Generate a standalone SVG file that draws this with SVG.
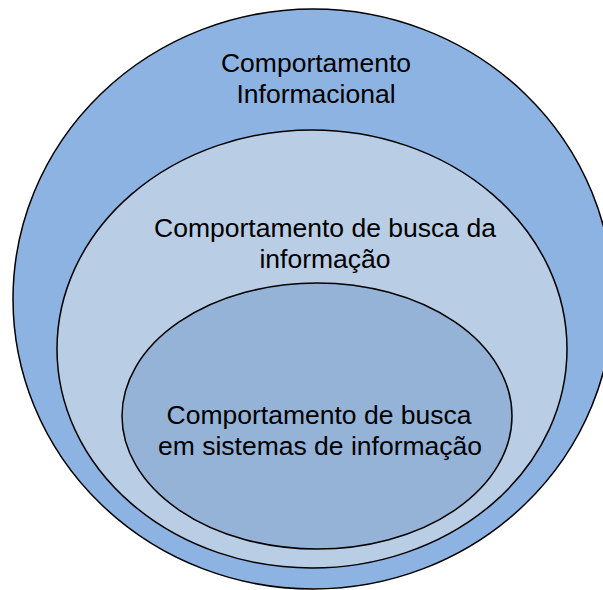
<svg xmlns="http://www.w3.org/2000/svg" width="603" height="590" viewBox="0 0 603 590">
<style>
.e{stroke:#000;stroke-width:1.5}
.t{font-family:"Liberation Sans",Arial,sans-serif;font-size:26.5px;fill:#000;text-anchor:middle}
</style>
<rect width="603" height="590" fill="#fff"/>
<g id="outer">
<ellipse class="e" cx="313" cy="299" rx="300" ry="290" fill="#8DB3E2"/>
<text class="t" x="316" y="72">Comportamento</text>
<text class="t" x="316" y="103">Informacional</text>
</g>
<g id="middle">
<ellipse class="e" cx="312" cy="349" rx="255" ry="219" fill="#B9CDE5"/>
<text class="t" x="325" y="237">Comportamento de busca da</text>
<text class="t" x="325" y="268">informação</text>
</g>
<g id="inner">
<ellipse class="e" cx="317" cy="416" rx="195" ry="133" fill="#95B3D7"/>
<text class="t" x="319" y="424">Comportamento de busca</text>
<text class="t" x="320" y="455">em sistemas de informação</text>
</g>
<g id="connectors"/>
</svg>
